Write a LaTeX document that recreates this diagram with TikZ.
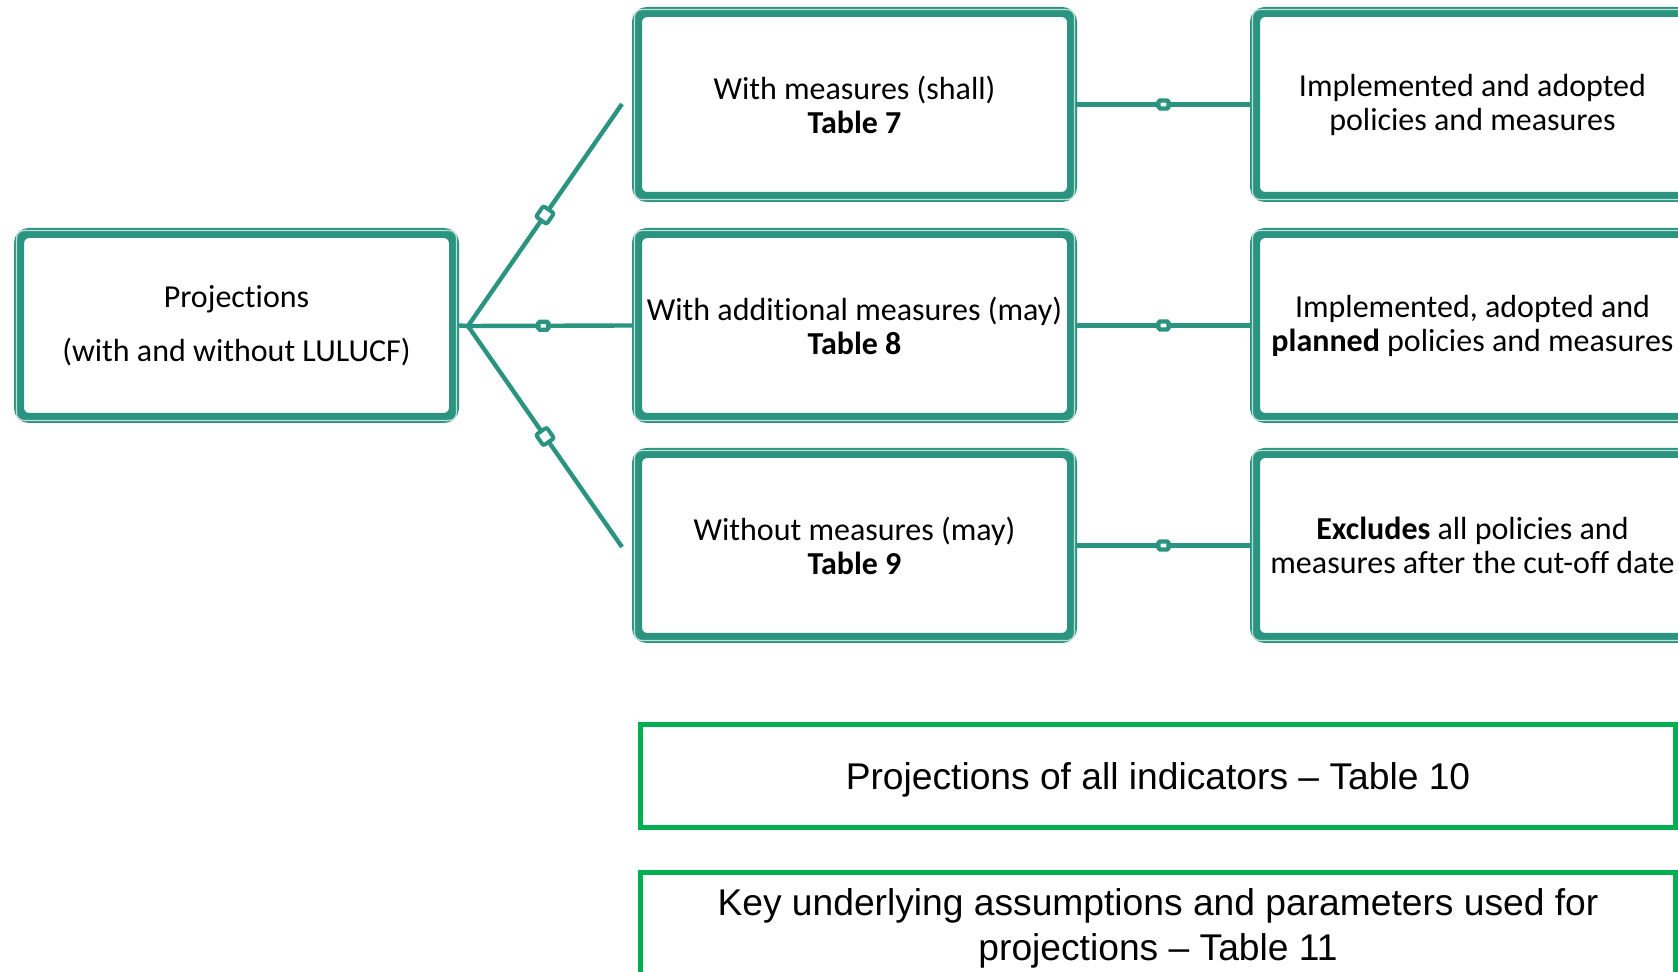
\documentclass[tikz,border=0pt]{standalone}
\usepackage{fontspec}
\setmainfont{Carlito}[Ligatures={NoCommon}]
\newfontfamily\arialf{Liberation Sans}
\definecolor{tealc}{RGB}{42,148,128}
\definecolor{greenc}{RGB}{0,176,80}
\begin{document}
\begin{tikzpicture}[x=0.5pt,y=-0.5pt,
 pbox/.style={draw=tealc, line width=5pt, rounded corners=5pt, fill=white, minimum width=217.5pt, minimum height=92.5pt, inner sep=0pt, align=center, font=\fontsize{16pt}{17pt}\selectfont},
 ptext/.style={inner sep=0pt, align=center, font=\fontsize{16pt}{17pt}\selectfont},
 gbox/.style={draw=greenc, line width=2.5pt, fill=white, minimum width=517.5pt, inner sep=0pt, align=center, font=\arialf\fontsize{18.6pt}{22.5pt}\selectfont},
 conn/.style={draw=tealc, line width=2.2pt},
 dmark/.style={draw=tealc, fill=white, line width=2pt, minimum size=6.5pt, inner sep=0pt, rounded corners=1pt, sloped},
 hmark/.style={draw=tealc, fill=white, line width=2.2pt, minimum width=5pt, minimum height=4pt, inner sep=0pt, rounded corners=0.8pt},
 innerline/.style={draw=tealc!30!white, line width=0.6pt, rounded corners=3.75pt}
]
\useasboundingbox (0,0) rectangle (1678,972);
\clip (0,0) rectangle (1678,972);

% teal boxes
\node[pbox] (pl) at (236.5,325.5) {};
\node[ptext] (plt) at (pl.center) {Projections\\[9.75pt](with and without LULUCF)};
\node[pbox] (m1) at (854.5,104.5) {With measures (shall)\\\textbf{Table 7}};
\node[pbox] (m2) at (854.5,325.5) {With additional measures (may)\\\textbf{Table 8}};
\node[pbox] (m3) at (854.5,545.5) {Without measures (may)\\\textbf{Table 9}};
\node[pbox] (r1) at (1472.5,104.5) {Implemented and adopted\\policies and measures};
\node[pbox] (r2) at (1472.5,325.5) {Implemented, adopted and\\\textbf{planned} policies and measures};
\node[pbox] (r3) at (1472.5,545.5) {\textbf{Excludes} all policies and\\measures after the cut-off date};

\foreach \n in {pl,m1,m2,m3,r1,r2,r3}
  \draw[innerline] ([shift={(1.25pt,-1.25pt)}]\n.north west) rectangle ([shift={(-1.25pt,1.25pt)}]\n.south east);

% green boxes
\node[gbox, minimum height=51.5pt, text height=14pt, text depth=0pt] (g1) at (1158,776) {Projections of all indicators – Table 10};
\node[gbox, minimum height=55.5pt] (g2) at (1158,928) {Key underlying assumptions and parameters used for\\projections – Table 11};

% connectors
\coordinate (j) at (468,326);
\coordinate (t1) at (622,104);
\coordinate (t3) at (622,547);
\draw[conn] (pl.east) -- (j);
\draw[conn] (j) -- node[dmark, pos=0.5] {} (t1);
\draw[conn] (j) -- node[dmark, pos=0.5] {} (t3);
\draw[conn] (j) -- node[hmark, pos=0.46] {} (m2.west);
\draw[conn] (m1.east) -- node[hmark, pos=0.5] {} (r1.west);
\draw[conn] (m2.east) -- node[hmark, pos=0.5] {} (r2.west);
\draw[conn] (m3.east) -- node[hmark, pos=0.5] {} (r3.west);
\end{tikzpicture}
\end{document}
